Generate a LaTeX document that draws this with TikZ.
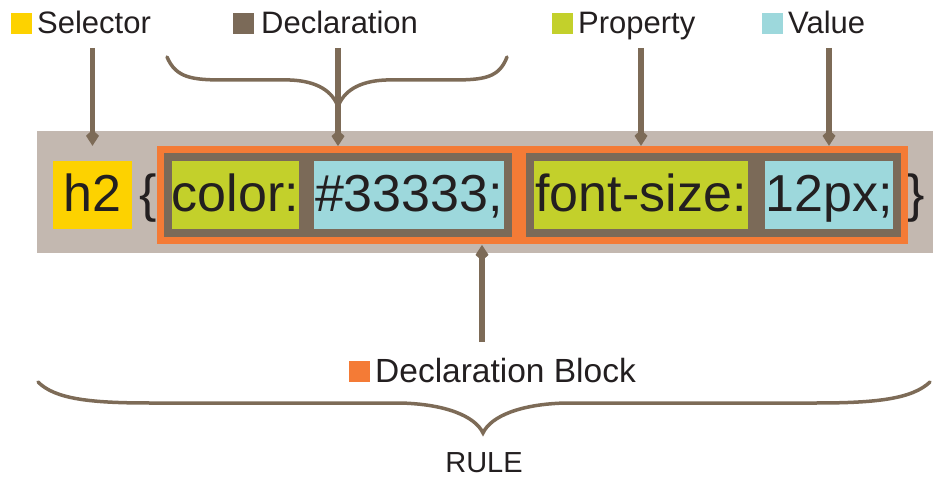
\documentclass[tikz,border=0pt]{standalone}
\usepackage{fontspec}
\setmainfont{Liberation Sans}
\usetikzlibrary{arrows.meta,fit,backgrounds}

\definecolor{bandgray}{HTML}{C3B8B0}
\definecolor{declbrown}{HTML}{7B6A58}
\definecolor{pointerbrown}{HTML}{7D6B57}
\definecolor{cssorange}{HTML}{F47B36}
\definecolor{cssyellow}{HTML}{FDD200}
\definecolor{cssgreen}{HTML}{C3D02B}
\definecolor{csscyan}{HTML}{9DD8DC}
\definecolor{csstext}{HTML}{231F20}

\newcommand{\swatch}[1]{{\color{#1}\rule{21pt}{21pt}}\hspace{5pt}}

\begin{document}
\begin{tikzpicture}[x=1pt,y=-1pt,
	codebox/.style={inner xsep=0pt,inner ysep=0pt,text height=51pt,text depth=17pt,font=\fontsize{52}{60}\selectfont,text=csstext},
	legend/.style={inner sep=0pt,font=\fontsize{31}{36}\selectfont,text=csstext},
	pointer/.style={draw=pointerbrown,line width=5.5pt,-{Kite[length=16pt,width=13pt,inset=6pt]}},
	bracket/.style={draw=pointerbrown,line width=3.5pt,line cap=round}]
	\useasboundingbox (0,0) rectangle (939,478);
	\node[codebox,fill=cssyellow,minimum width=79pt] (selbox) at (92.5,195) {h2};
	\node[codebox,fill=cssgreen,minimum width=127pt] (prop1) at (235.5,195) {color:};
	\node[codebox,fill=csscyan,minimum width=190pt] (val1) at (409,195) {\#33333;};
	\node[codebox,fill=cssgreen,minimum width=214pt] (prop2) at (641,195) {font-size:};
	\node[codebox,fill=csscyan,minimum width=126pt] (val2) at (829,195) {12px;};
	\begin{scope}[on background layer]
		\fill[bandgray] (37,131) rectangle (933,253);
		\node[codebox,anchor=base] (lbrace) at (148,212) {\{};
		\node[codebox,anchor=base] (rbrace) at (916,212) {\}};
		\node[fit=(prop1)(val1),inner xsep=15pt,inner ysep=14.5pt,fill=cssorange] (block1) {};
		\node[fit=(prop2)(val2),inner xsep=15pt,inner ysep=14.5pt,fill=cssorange] (block2) {};
		\node[fit=(prop1)(val1),inner sep=7.5pt,fill=declbrown] (decl1) {};
		\node[fit=(prop2)(val2),inner sep=8pt,fill=declbrown] (decl2) {};
	\end{scope}
	\node[legend,anchor=base west] (sellbl) at (11,34) {\swatch{cssyellow}Selector};
	\node[legend,anchor=base west] (decllbl) at (233,34) {\swatch{declbrown}\hspace{2pt}Declaration};
	\node[legend,anchor=base west] (proplbl) at (552,34) {\swatch{cssgreen}Property};
	\node[legend,anchor=base west] (vallbl) at (762,34) {\swatch{csscyan}Value};
	\node[legend,anchor=base west,font=\fontsize{33.5}{38}\selectfont] (blocklbl) at (349,382) {\swatch{cssorange}Declaration Block};
	\node[legend,anchor=base,font=\fontsize{29}{34}\selectfont] (rulelbl) at (484,472) {RULE};
	\coordinate (seltop) at (92.5,48);
	\coordinate (decltop) at (338,48);
	\coordinate (proptop) at (641,48);
	\coordinate (valtop) at (829,48);
	\coordinate (blockbot) at (482,342);
	\draw[pointer] (seltop) -- ([yshift=15pt]selbox.north);
	\draw[pointer] (decltop) -- (decltop |- block1.north);
	\draw[pointer] (proptop) -- ([yshift=15pt]prop2.north);
	\draw[pointer] (valtop) -- ([yshift=15pt]val2.north);
	\draw[pointer] (blockbot) -- ([yshift=-1pt]blockbot |- block1.south);
	\draw[bracket] (167,57) .. controls (176,78) and (192,80) .. (225,80) -- (290,80)
		.. controls (318,81) and (333,92) .. (338,107)
		.. controls (343,92) and (358,81) .. (386,80) -- (451,80)
		.. controls (484,80) and (499,78) .. (507,57);
	\draw[bracket] (38,382) .. controls (55,399) and (90,403) .. (150,403) -- (400,403)
		.. controls (445,404) and (475,416) .. (483,433)
		.. controls (491,416) and (521,404) .. (566,403) -- (816,403)
		.. controls (876,403) and (912,399) .. (930,382);
\end{tikzpicture}
\end{document}
